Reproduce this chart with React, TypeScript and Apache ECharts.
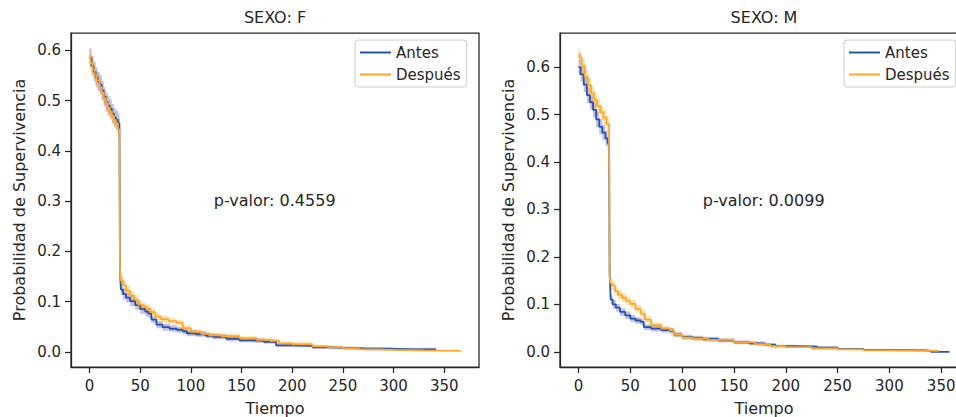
import React, { useEffect, useRef } from "react";
import * as echarts from "echarts";

const xTicks = [0, 50, 100, 150, 200, 250, 300, 350];
const yTicks = [0, 0.1, 0.2, 0.3, 0.4, 0.5, 0.6];
const titles = ["SEXO: F", "SEXO: M"];
const pValues = ["p-valor: 0.4559", "p-valor: 0.0099"];
const groupNames = ["Antes", "Después"];

// SEXO: F — Antes
const fAntesT = [0, 2, 4, 6, 8, 10, 12, 14, 16, 18, 20, 22, 24, 26, 28, 29.5, 30, 30.5, 31, 33, 36, 40, 45, 50, 55, 58, 61, 66, 72, 79, 86, 92, 96, 105, 115, 122, 135, 148, 161, 172, 184, 200, 220, 240, 250, 270, 300, 320, 342];
const fAntesS = [0.585, 0.570, 0.558, 0.547, 0.538, 0.532, 0.520, 0.508, 0.497, 0.490, 0.484, 0.474, 0.467, 0.462, 0.455, 0.447, 0.170, 0.140, 0.124, 0.115, 0.108, 0.101, 0.093, 0.085, 0.080, 0.076, 0.064, 0.054, 0.049, 0.046, 0.044, 0.041, 0.037, 0.035, 0.032, 0.030, 0.026, 0.023, 0.022, 0.020, 0.013, 0.012, 0.009, 0.008, 0.007, 0.006, 0.005, 0.005, 0.004];
const fAntesLo = [0.566, 0.551, 0.539, 0.528, 0.519, 0.513, 0.501, 0.489, 0.478, 0.471, 0.465, 0.455, 0.448, 0.443, 0.436, 0.428, 0.158, 0.129, 0.113, 0.104, 0.098, 0.091, 0.084, 0.076, 0.071, 0.068, 0.057, 0.047, 0.042, 0.040, 0.038, 0.035, 0.031, 0.030, 0.027, 0.025, 0.021, 0.019, 0.018, 0.016, 0.010, 0.009, 0.006, 0.005, 0.004, 0.003, 0.003, 0.002, 0.002];
const fAntesHi = [0.604, 0.589, 0.577, 0.566, 0.557, 0.551, 0.539, 0.527, 0.516, 0.509, 0.503, 0.493, 0.486, 0.481, 0.474, 0.466, 0.182, 0.151, 0.135, 0.126, 0.118, 0.111, 0.102, 0.094, 0.089, 0.084, 0.071, 0.061, 0.056, 0.053, 0.050, 0.047, 0.043, 0.041, 0.037, 0.035, 0.031, 0.028, 0.027, 0.024, 0.017, 0.016, 0.012, 0.011, 0.010, 0.009, 0.008, 0.008, 0.007];

// SEXO: F — Después
const fDespT = [0, 1, 3, 5, 7, 10, 12, 14, 16, 18, 20, 22, 24, 26, 28, 29.5, 30, 30.5, 31, 33, 36, 40, 44, 48, 52, 56, 60, 65, 70, 78, 86, 92, 100, 110, 118, 130, 148, 165, 178, 187, 200, 220, 235, 250, 266, 285, 300, 330, 366];
const fDespS = [0.590, 0.575, 0.562, 0.550, 0.540, 0.527, 0.516, 0.505, 0.495, 0.486, 0.478, 0.470, 0.462, 0.455, 0.443, 0.435, 0.170, 0.150, 0.142, 0.133, 0.122, 0.112, 0.104, 0.094, 0.090, 0.086, 0.079, 0.070, 0.065, 0.061, 0.058, 0.047, 0.040, 0.036, 0.033, 0.031, 0.027, 0.024, 0.022, 0.017, 0.015, 0.011, 0.009, 0.007, 0.005, 0.004, 0.003, 0.002, 0.000];
const fDespLo = [0.574, 0.559, 0.546, 0.534, 0.524, 0.511, 0.500, 0.489, 0.479, 0.470, 0.462, 0.454, 0.446, 0.439, 0.427, 0.419, 0.158, 0.139, 0.132, 0.123, 0.113, 0.103, 0.096, 0.086, 0.082, 0.078, 0.072, 0.063, 0.058, 0.055, 0.052, 0.041, 0.035, 0.031, 0.028, 0.026, 0.023, 0.020, 0.018, 0.014, 0.012, 0.008, 0.006, 0.005, 0.003, 0.002, 0.001, 0.001, 0.000];
const fDespHi = [0.605, 0.590, 0.577, 0.565, 0.555, 0.542, 0.531, 0.520, 0.510, 0.501, 0.493, 0.485, 0.477, 0.470, 0.458, 0.450, 0.182, 0.161, 0.152, 0.143, 0.131, 0.121, 0.113, 0.102, 0.098, 0.094, 0.086, 0.077, 0.072, 0.067, 0.064, 0.053, 0.045, 0.041, 0.038, 0.036, 0.031, 0.028, 0.026, 0.021, 0.019, 0.014, 0.012, 0.010, 0.008, 0.006, 0.005, 0.004, 0.001];

// SEXO: M — Antes
const mAntesT = [0, 2, 5, 8, 11, 14, 17, 20, 23, 26, 28, 29.5, 30, 30.5, 31, 33, 36, 40, 45, 50, 55, 60, 63, 70, 80, 88, 92, 100, 110, 120, 135, 150, 165, 180, 190, 210, 230, 250, 275, 300, 336, 340, 358];
const mAntesS = [0.600, 0.585, 0.563, 0.541, 0.526, 0.510, 0.490, 0.474, 0.462, 0.450, 0.440, 0.428, 0.165, 0.140, 0.110, 0.100, 0.093, 0.084, 0.077, 0.070, 0.066, 0.063, 0.052, 0.049, 0.046, 0.044, 0.036, 0.031, 0.029, 0.027, 0.024, 0.020, 0.018, 0.015, 0.012, 0.011, 0.009, 0.006, 0.004, 0.003, 0.002, 0.000, 0.000];
const mAntesLo = [0.584, 0.569, 0.547, 0.525, 0.510, 0.494, 0.474, 0.458, 0.446, 0.434, 0.424, 0.412, 0.154, 0.130, 0.101, 0.091, 0.085, 0.076, 0.069, 0.063, 0.059, 0.056, 0.046, 0.043, 0.040, 0.038, 0.031, 0.026, 0.024, 0.022, 0.020, 0.016, 0.014, 0.012, 0.009, 0.008, 0.006, 0.004, 0.002, 0.001, 0.001, 0.000, 0.000];
const mAntesHi = [0.616, 0.601, 0.579, 0.557, 0.542, 0.526, 0.506, 0.490, 0.478, 0.466, 0.456, 0.444, 0.176, 0.150, 0.119, 0.109, 0.101, 0.092, 0.085, 0.077, 0.073, 0.070, 0.058, 0.055, 0.052, 0.050, 0.041, 0.036, 0.034, 0.032, 0.028, 0.024, 0.022, 0.018, 0.015, 0.014, 0.012, 0.008, 0.006, 0.005, 0.004, 0.001, 0.000];

// SEXO: M — Después
const mDespT = [0, 1, 3, 6, 9, 12, 15, 18, 21, 24, 27, 29.5, 30, 30.5, 32, 35, 38, 42, 46, 50, 55, 60, 64, 70, 80, 88, 92, 100, 110, 125, 150, 170, 185, 200, 225, 250, 275, 300, 347];
const mDespS = [0.628, 0.620, 0.603, 0.580, 0.562, 0.545, 0.530, 0.518, 0.505, 0.494, 0.480, 0.465, 0.160, 0.145, 0.140, 0.128, 0.120, 0.114, 0.107, 0.101, 0.090, 0.080, 0.068, 0.056, 0.049, 0.046, 0.036, 0.030, 0.028, 0.025, 0.020, 0.016, 0.012, 0.010, 0.007, 0.005, 0.003, 0.002, 0.000];
const mDespLo = [0.615, 0.606, 0.588, 0.564, 0.546, 0.529, 0.514, 0.502, 0.489, 0.478, 0.464, 0.449, 0.150, 0.136, 0.131, 0.119, 0.111, 0.105, 0.099, 0.093, 0.083, 0.073, 0.062, 0.051, 0.044, 0.041, 0.032, 0.026, 0.024, 0.021, 0.017, 0.013, 0.009, 0.008, 0.005, 0.003, 0.002, 0.001, 0.000];
const mDespHi = [0.640, 0.633, 0.617, 0.595, 0.578, 0.561, 0.546, 0.534, 0.521, 0.510, 0.496, 0.481, 0.171, 0.155, 0.150, 0.137, 0.129, 0.123, 0.115, 0.109, 0.098, 0.088, 0.075, 0.062, 0.054, 0.051, 0.040, 0.034, 0.032, 0.029, 0.023, 0.019, 0.015, 0.012, 0.009, 0.007, 0.005, 0.003, 0.001];

const FONT = '"DejaVu Sans", sans-serif';
const TXT = "#262626";
const BLUE = "#2456a8";
const ORANGE = "#ffa62b";
const BLUE_BAND = "rgba(96, 84, 200, 0.38)";
const ORANGE_BAND = "rgba(255, 165, 0, 0.32)";
const LABEL_SIZE = 16;
const TICK_SIZE = 15;

const GRIDS = [
  { left: 71, top: 33, width: 408, height: 334 },
  { left: 560, top: 33, width: 408, height: 334 },
];
const X_RANGES = [
  [-18.3, 384.3],
  [-17.9, 375.9],
];
const Y_RANGES = [
  [-0.0302, 0.6348],
  [-0.032, 0.672],
];

type Curve = { name: string; t: number[]; s: number[]; lo: number[]; hi: number[]; color: string; band: string };

const PANELS: Curve[][] = [
  [
    { name: "Antes", t: fAntesT, s: fAntesS, lo: fAntesLo, hi: fAntesHi, color: BLUE, band: BLUE_BAND },
    { name: "Después", t: fDespT, s: fDespS, lo: fDespLo, hi: fDespHi, color: ORANGE, band: ORANGE_BAND },
  ],
  [
    { name: "Antes", t: mAntesT, s: mAntesS, lo: mAntesLo, hi: mAntesHi, color: BLUE, band: BLUE_BAND },
    { name: "Después", t: mDespT, s: mDespS, lo: mDespLo, hi: mDespHi, color: ORANGE, band: ORANGE_BAND },
  ],
];

function bandSeries(c: Curve, gi: number, ci: number) {
  return {
    type: "custom",
    name: `_band_${gi}_${ci}`,
    xAxisIndex: gi,
    yAxisIndex: gi,
    silent: true,
    clip: true,
    z: 1,
    data: [[c.t[0], c.s[0]]],
    renderItem: (params: any, api: any) => {
      if (params.dataIndex !== 0) return null;
      const n = c.t.length;
      const pts: number[][] = [];
      for (let i = 0; i < n; i++) {
        pts.push(api.coord([c.t[i], c.hi[i]]));
        if (i < n - 1) pts.push(api.coord([c.t[i + 1], c.hi[i]]));
      }
      for (let i = n - 1; i >= 0; i--) {
        if (i < n - 1) pts.push(api.coord([c.t[i + 1], c.lo[i]]));
        pts.push(api.coord([c.t[i], c.lo[i]]));
      }
      return {
        type: "polygon",
        shape: { points: pts },
        style: { fill: c.band, stroke: "none" },
      };
    },
  };
}

function buildOption() {
  const bands: any[] = [];
  const lines: any[] = [];
  PANELS.forEach((curves, gi) => {
    curves.forEach((c, ci) => {
      bands.push(bandSeries(c, gi, ci));
      lines.push({
        type: "line",
        name: c.name,
        color: c.color,
        xAxisIndex: gi,
        yAxisIndex: gi,
        step: "end",
        symbol: "none",
        silent: true,
        lineStyle: { width: 1.8, color: c.color },
        itemStyle: { color: c.color },
        data: c.t.map((t, i) => [t, c.s[i]]),
        z: 3,
      });
    });
  });

  const axisLineStyle = { color: TXT, width: 1.25 };

  return {
    animation: false,
    backgroundColor: "#ffffff",
    textStyle: { fontFamily: FONT },
    grid: GRIDS.map((g) => ({
      ...g,
      show: true,
      borderColor: TXT,
      borderWidth: 1.25,
      backgroundColor: "transparent",
      containLabel: false,
      outerBoundsMode: "none",
    })),
    xAxis: GRIDS.map((_, gi) => ({
      type: "value",
      gridIndex: gi,
      min: X_RANGES[gi][0],
      max: X_RANGES[gi][1],
      name: "Tiempo",
      nameLocation: "middle",
      nameGap: 33,
      nameTextStyle: { fontSize: LABEL_SIZE, color: TXT, fontFamily: FONT },
      splitLine: { show: false },
      axisLine: { show: true, onZero: false, lineStyle: axisLineStyle },
      axisTick: { show: true, length: 6, lineStyle: axisLineStyle, customValues: xTicks },
      axisLabel: {
        customValues: xTicks,
        margin: 11,
        fontSize: TICK_SIZE,
        color: TXT,
        fontFamily: FONT,
        formatter: (v: number) => String(v),
      },
    })),
    yAxis: GRIDS.map((_, gi) => ({
      type: "value",
      gridIndex: gi,
      min: Y_RANGES[gi][0],
      max: Y_RANGES[gi][1],
      name: "Probabilidad de Supervivencia",
      nameLocation: "middle",
      nameGap: 44,
      nameTextStyle: { fontSize: LABEL_SIZE, color: TXT, fontFamily: FONT },
      splitLine: { show: false },
      axisLine: { show: true, onZero: false, lineStyle: axisLineStyle },
      axisTick: { show: true, length: 6, lineStyle: axisLineStyle, customValues: yTicks },
      axisLabel: {
        customValues: yTicks,
        margin: 10,
        fontSize: TICK_SIZE,
        color: TXT,
        fontFamily: FONT,
        formatter: (v: number) => v.toFixed(1),
      },
    })),
    legend: [355, 844].map((left) => ({
      data: groupNames,
      left,
      top: 40,
      orient: "vertical",
      icon: "rect",
      itemWidth: 31,
      itemHeight: 2,
      itemGap: 5,
      itemTextGap: 11,
      padding: [4, 6, 4, 5],
      borderColor: "#cccccc",
      borderWidth: 1,
      borderRadius: 3,
      backgroundColor: "rgba(255,255,255,0.8)",
      selectedMode: false,
      textStyle: { fontSize: TICK_SIZE, color: TXT, fontFamily: FONT, lineHeight: 17 },
    })),
    graphic: [
      ...titles.map((text, gi) => ({
        type: "text",
        x: GRIDS[gi].left + GRIDS[gi].width / 2,
        y: 17,
        silent: true,
        style: {
          text,
          fill: TXT,
          font: `${LABEL_SIZE}px ${FONT}`,
          align: "center",
          verticalAlign: "middle",
          textAlign: "center",
          textVerticalAlign: "middle",
        },
      })),
      ...pValues.map((text, gi) => ({
        type: "text",
        x: GRIDS[gi].left + GRIDS[gi].width * 0.35,
        y: GRIDS[gi].top + GRIDS[gi].height / 2,
        silent: true,
        z: 10,
        style: {
          text,
          fill: TXT,
          font: `${LABEL_SIZE}px ${FONT}`,
          align: "left",
          verticalAlign: "middle",
          textAlign: "left",
          textVerticalAlign: "middle",
        },
      })),
    ],
    series: [...bands, ...lines],
  };
}

export default function App() {
  const ref = useRef<HTMLDivElement>(null);
  useEffect(() => {
    if (!ref.current) return;
    const chart = echarts.init(ref.current, undefined, { renderer: "svg" });
    chart.setOption(buildOption() as any);
    return () => chart.dispose();
  }, []);
  return (
    <div
      ref={ref}
      style={{ position: "fixed", left: 0, top: 0, width: 956, height: 417, background: "#fff" }}
    />
  );
}
